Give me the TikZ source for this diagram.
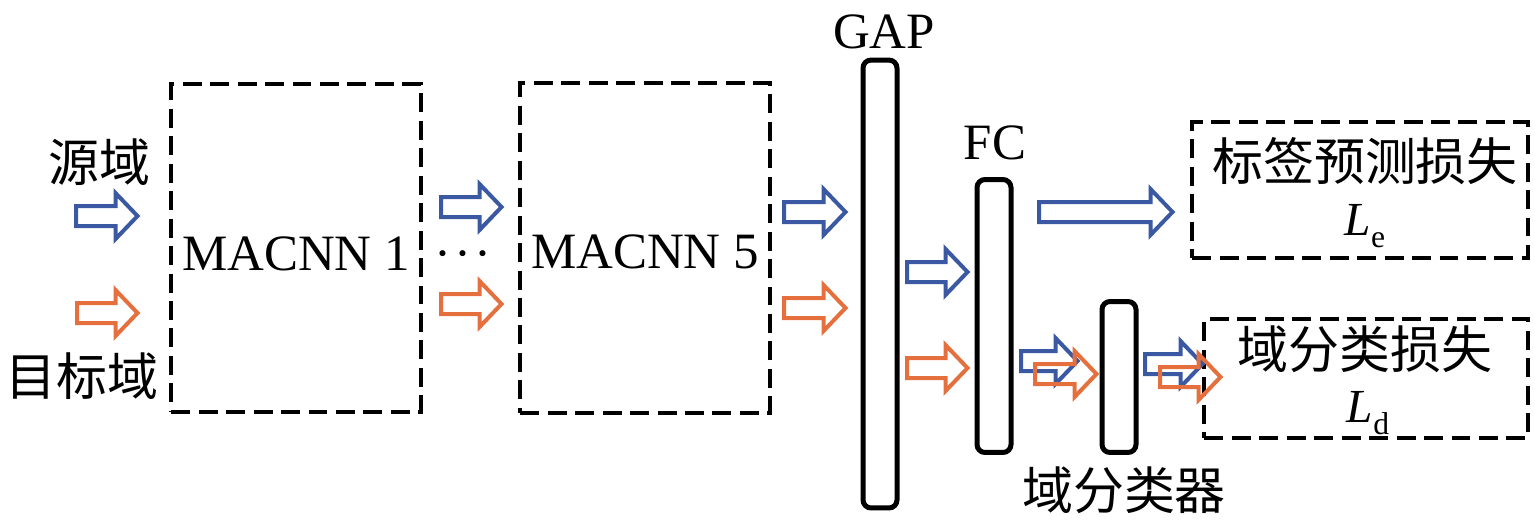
\documentclass[tikz,border=0pt]{standalone}
\usepackage{fontspec}
\setmainfont{Liberation Serif}
\newfontfamily\cjk{Noto Sans CJK SC}
\usetikzlibrary{positioning}

\definecolor{srcblue}{RGB}{59,89,163}
\definecolor{tgtorange}{RGB}{229,112,62}

\begin{document}
\begin{tikzpicture}[x=0.02cm, y=-0.02cm,
    dashbox/.style={draw, line width=0.09cm, dash pattern=on 0.38cm off 0.17cm, inner sep=0pt},
    bar/.style={draw, line width=0.1cm, rounded corners=0.16cm, inner sep=0pt, minimum width=0.68cm},
    lbl/.style={font=\fontsize{29}{31}\selectfont, inner sep=0pt},
    zh/.style={font=\fontsize{29}{31}\selectfont\cjk, inner sep=0pt}]

    \useasboundingbox (0,0) rectangle (1535,522);

    % hollow block arrow: left end, tip, centre y, colour
    \newcommand{\blockarrow}[4]{
        \draw[#4, line width=0.08cm, line join=miter]
            (#1+2,#3-10) -- (#2-24.5,#3-10) -- (#2-24.5,#3-23) -- (#2-2.5,#3)
            -- (#2-24.5,#3+23) -- (#2-24.5,#3+10) -- (#1+2,#3+10) -- cycle;
    }

    % Boxes
    \node[dashbox, minimum width=5cm, minimum height=6.56cm] (macnnA) at (296,248) {};
    \node[dashbox, minimum width=5cm, minimum height=6.6cm] (macnnB) at (645,248) {};
    \node[bar, minimum height=8.96cm] (gap) at (880,284) {};
    \node[bar, minimum height=5.46cm] (fc) at (994,316) {};
    \node[bar, minimum height=3.02cm] (dc) at (1119,377) {};
    \node[dashbox, minimum width=6.72cm, minimum height=2.72cm] (lossE) at (1360,190) {};
    \node[dashbox, minimum width=6.48cm, minimum height=2.38cm] (lossD) at (1366,378.5) {};

    % Texts
    \node[zh] (src) at (99,162) {源域};
    \node[zh] (tgt) at (82,376) {目标域};
    \node[lbl, anchor=base] (macnnAtxt) at (296,270) {MACNN 1};
    \node[lbl, anchor=base] (dots) at (463,270) {·\kern2pt·\kern2pt·};
    \node[lbl, anchor=base] (macnnBtxt) at (645,268) {MACNN 5};
    \node[lbl, anchor=base] (gaptxt) at (884,48) {GAP};
    \node[lbl, anchor=base] (fctxt) at (995,159) {FC};
    \node[zh] (dctxt) at (1124,490) {域分类器};
    \node[zh] (lossEtxt) at (1365,161) {标签预测损失};
    \node[inner sep=0pt, anchor=base] (le) at (1365,235)
        {{\fontsize{27}{29}\selectfont\itshape L}{\fontsize{18}{19}\selectfont\raisebox{-7pt}{e}}};
    \node[zh] (lossDtxt) at (1365,349) {域分类损失};
    \node[inner sep=0pt, anchor=base] (ld) at (1368,422)
        {{\fontsize{27}{29}\selectfont\itshape L}{\fontsize{18}{19}\selectfont\raisebox{-7pt}{d}}};

    % Arrows
    \foreach \a/\b/\y in {74/140/216, 439/504/207, 782/848/212, 905/970/272, 1037/1175/212, 1019/1080/361, 1143/1205/364}{
        \blockarrow{\a}{\b}{\y}{srcblue}
    }
    \foreach \a/\b/\y in {75/140/313, 439/504/304, 782/848/308, 905/970/368, 1033/1099/374, 1158/1223/377}{
        \blockarrow{\a}{\b}{\y}{tgtorange}
    }

\end{tikzpicture}
\end{document}
